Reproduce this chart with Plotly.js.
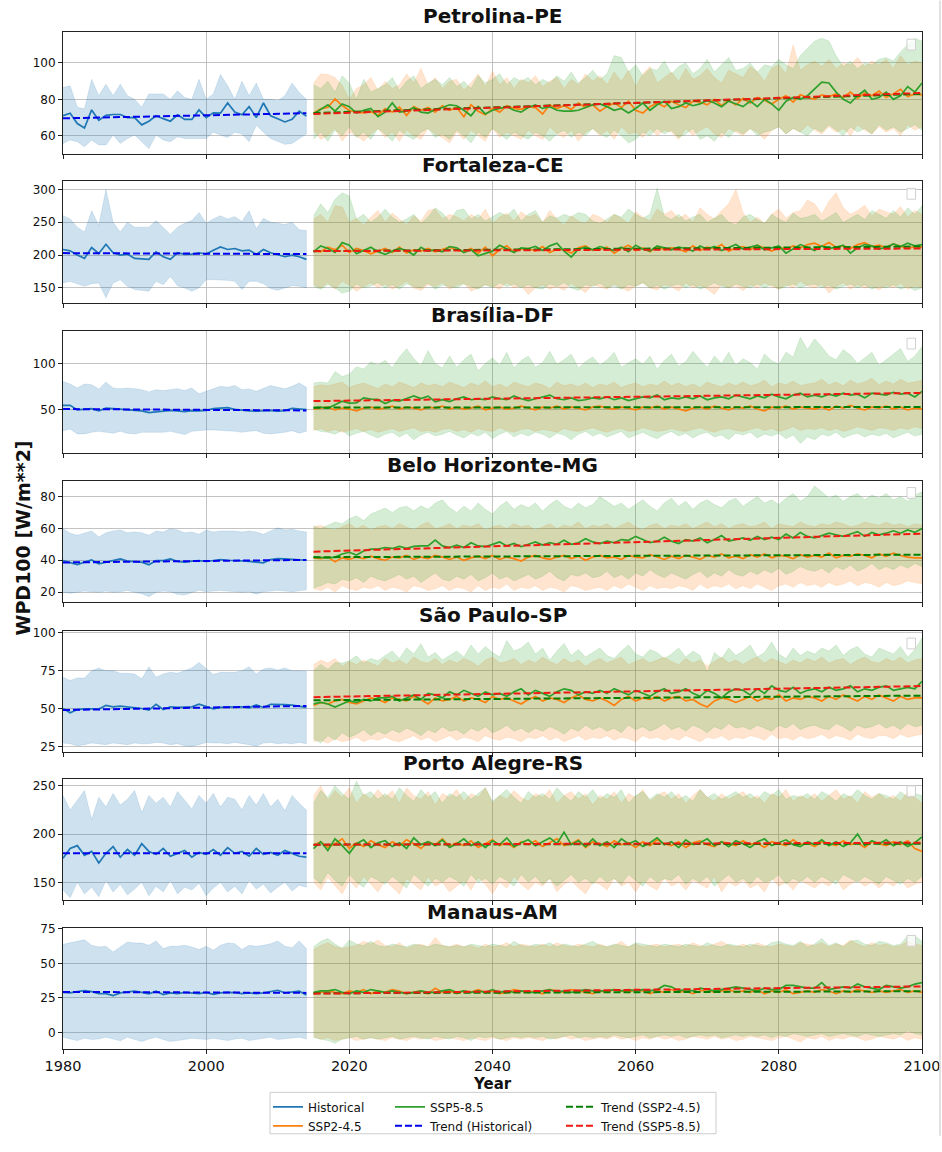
<!DOCTYPE html>
<html><head><meta charset="utf-8">
<script src="https://cdn.plot.ly/plotly-3.0.1.min.js"></script>
<style>body{margin:0;background:#fff}</style>
</head><body><div id="chart" style="width:942px;height:1152px"></div>
<script>
const histYears = [1980,1981,1982,1983,1984,1985,1986,1987,1988,1989,1990,1991,1992,1993,1994,1995,1996,1997,1998,1999,2000,2001,2002,2003,2004,2005,2006,2007,2008,2009,2010,2011,2012,2013,2014];
const sspYears = [2015,2016,2017,2018,2019,2020,2021,2022,2023,2024,2025,2026,2027,2028,2029,2030,2031,2032,2033,2034,2035,2036,2037,2038,2039,2040,2041,2042,2043,2044,2045,2046,2047,2048,2049,2050,2051,2052,2053,2054,2055,2056,2057,2058,2059,2060,2061,2062,2063,2064,2065,2066,2067,2068,2069,2070,2071,2072,2073,2074,2075,2076,2077,2078,2079,2080,2081,2082,2083,2084,2085,2086,2087,2088,2089,2090,2091,2092,2093,2094,2095,2096,2097,2098,2099,2100];
const cities = ['Petrolina-PE','Fortaleza-CE','Brasília-DF','Belo Horizonte-MG','São Paulo-SP','Porto Alegre-RS','Manaus-AM'];
const seriesNames = ['Historical','SSP2-4.5','SSP5-8.5','Trend (Historical)','Trend (SSP2-4.5)','Trend (SSP5-8.5)'];

// ---------- Petrolina-PE ----------
const pet_hist_mean = [71,72.4,66.7,64.3,74.2,68.5,71.2,71.7,71.7,70,70,66,68,71,69.4,68,71.5,69,69,74.2,70,72.6,72.4,78,73,71.5,76,70,78,71,69.4,67.6,69,73.5,70.8];
const pet_hist_up = [86.5,87.4,75.7,74.8,91,82,88.3,82,88.3,82,80,75.7,83,83,83,80,84.7,81,80,91,80,83,93.7,87.4,80,90,82,89,80,80,79.3,82,89,83.8,80];
const pet_hist_lo = [55.8,57.7,56.8,54,57.7,55,55,60.4,55.8,58.5,60.4,56.8,53,60.4,57.7,56.8,59.5,58.5,58.5,58.5,58.5,62,60.4,59,62,61,56.8,65.8,62,58.5,56.8,55.3,55.8,58.5,61];
const pet_245_mean = [72.4,74.8,75.7,80.2,76.6,73.9,73,72.6,73.3,71.2,74.8,73,75.7,71.2,76,74,75.5,73,76.5,74,75.5,70.5,77,73.5,71.5,75,73,76.5,75,74.5,76,75.5,72,77,75,76.5,74.5,78,75.5,77,73.5,76,78,75.5,79,74,72.5,76,78,76,79,77,75.5,79,78.5,77,80,76.5,79.5,77,80.5,78,81,79.5,77.5,80,82,78.5,82.5,81,80,82.5,81.5,83,81,84,80.5,83.5,82,84.5,81,83,85.5,81.5,83,82.5];
const pet_245_up = [89,94,93.7,92,87.7,80,86,88,92,85,90,86,88,94,89,97,88,92,86,90,91,85,89,94,87,95.5,88,92,86,91,89,93,87,90,92,86,91,88,94,90,93,88,95,90,96,87,94,98,89,92,95,90,97,91,93,97,92,89,96,94,92,98,95,90,97,99,94,110,96,99,101,98,102,97,100,99,103,98,101,99,102,97,104,99,101,100];
const pet_245_lo = [63,58,60,64,57,62,60,57,61,64,59,62,57,63,60,58,64,61,59,56,62,58,63,60,57,64,59,62,60,58,63,60,58,65,61,59,63,57,62,64,60,63,58,65,61,62,59,64,60,63,62,58,64,60,63,65,61,59,64,62,60,64,62,58,63,65,61,64,62,66,63,61,65,62,64,60,66,63,61,65,62,64,60,66,63,65];
const pet_585_mean = [72,74.5,77,73.5,77.5,76,72.5,74,75,70.5,73,78,73,73.5,75.5,73,72.5,74.5,75.5,77,76.5,74,71,76,72,74,75,76,74,73,75.5,77,75,76,74,73.5,73.5,74,75.5,77,77.5,76,74,75,72.5,75,78,74,77,79,75,76,78,76.5,77.5,79.5,78,76,79,77.5,76,79,76,80,77.5,74,79,81,80,82,86,89.5,89,84,80,78,82,85,80,81,84,80,82,87,84,89];
const pet_585_up = [88,86,90,84,93,89,80,91,84,86,88,92,85,90,93,86,89,91,88,92,87,90,86,93,89,91,94,88,92,90,92,88,91,89,93,90,95,89,92,96,91,94,104,103,95,99,93,97,96,101,94,98,100,94,97,102,95,99,103,96,97,100,95,99,98,102,99,97,104,108,112,113.5,112,104,98,101,97,100,99,102,103,101,106,110,113.5,112];
const pet_585_lo = [58,62,57,63,60,65,59,62,58,64,61,57,63,60,58,62,64,59,61,58,63,60,56,62,59,64,61,58,62,60,58,62,60,57,61,63,59,62,60,64,61,59,63,60,56,58,62,60,64,61,63,59,61,64,58,60,57,62,59,63,61,64,60,62,63,65,61,64,62,60,64,62,66,63,60,65,62,64,61,66,63,65,62,64,66,63];
const pet_trend_hist = [69.6,72.4], pet_trend_245 = [72.5,83], pet_trend_585 = [72,83.5];

// ---------- Fortaleza-CE ----------
const for_hist_mean = [208.5,206.5,200,195,211.5,202.5,216.5,203.5,200,201.5,195,194,193.5,205,197.5,193.5,203.5,201,201.5,203.5,201.5,207.5,212.5,208.5,210,206.5,207.5,201,208.5,203.5,200,197.5,200,197.5,193.5];
const for_hist_up = [260,255,242.5,235,267.5,245,300,250,235,250,242.5,242.5,242.5,252.5,242.5,231.5,242.5,248.5,252.5,265,248.5,255,260,255,258.5,251,267.5,240,256,250,248.5,246.5,250,238.5,237.5];
const for_hist_lo = [157.5,160,156.5,152.5,156.5,157.5,135,157.5,162.5,152.5,147.5,146.5,145,160,155,167.5,153.5,150,145,150,162.5,162.5,162.5,161.5,160,147.5,160,160,156.5,149,146.5,150,153.5,152.5,150];
const for_245_mean = [207,205,212,208,215,204,210,207,202,206,210,204,212,203,208,206,210,205,209,212,208,205,210,203,212,199,208,214,205,209,210,206,213,204,209,208,203,211,214,207,209,212,203,210,215,207,211,205,213,208,211,209,205,214,207,212,210,216,206,211,213,208,215,210,206,212,209,214,211,216,218,213,219,212,214,210,216,219,213,215,211,217,214,210,213,212];
const for_245_up = [255,262,250,275,273,250,256,245,258,268,250,264,255,246,260,252,268,270,255,262,258,252,262,255,270,248,258,264,252,266,258,262,250,268,255,245,260,252,248,262,258,250,262,256,248,266,258,252,270,262,268,256,262,250,272,262,255,268,278,300,265,250,258,248,262,270,256,265,268,284,278,262,282,295,272,262,268,276,260,270,266,262,274,258,268,262];
const for_245_lo = [155,150,158,148,160,154,145,152,158,150,156,148,153,160,150,146,155,152,158,148,154,157,145,150,155,152,148,158,150,153,140,150,155,148,152,146,157,150,143,155,152,148,156,150,145,153,158,150,147,155,152,145,158,150,154,148,140,155,150,153,146,155,150,158,152,148,155,150,160,153,150,156,142,152,158,148,155,150,153,147,154,150,157,148,153,150];
const for_585_mean = [205,214,210,204,219,215,202,207,212,205,201,206,210,207,200,212,206,208,205,213,211,204,208,199,202,206,215,209,204,211,210,213,207,214,218,206,197,209,212,208,213,210,207,212,205,215,209,206,214,211,208,212,210,206,214,209,213,207,211,216,209,212,215,208,211,214,203,210,216,212,207,214,210,212,215,203,211,216,214,209,212,217,213,218,214,216];
const for_585_up = [260,278,265,285,295,290,255,262,250,258,270,258,250,255,262,248,258,272,264,252,268,270,255,262,252,258,265,260,270,252,262,268,250,260,256,262,258,265,262,252,248,255,262,258,270,262,256,262,302,260,254,262,252,258,262,250,256,262,250,246,258,262,254,248,262,255,250,264,256,258,262,252,258,265,250,256,262,254,268,262,256,268,258,272,262,275];
const for_585_lo = [152,148,155,150,142,145,156,150,153,158,150,155,148,156,152,150,157,148,154,152,150,156,152,148,155,150,158,152,156,150,155,150,148,156,152,158,150,146,155,152,157,150,153,148,155,152,158,150,154,148,153,156,150,155,148,152,158,152,150,156,152,150,156,150,155,148,152,156,150,154,156,150,154,148,152,156,150,155,148,152,150,155,148,152,146,150];
const for_trend_hist = [203,201.5], for_trend_245 = [206,213], for_trend_585 = [206,210];

// ---------- Brasília-DF ----------
const bsb_hist_mean = [54.9,54.9,50,51,51.4,49,52,51.4,50.7,50,49.6,49,47.2,48.2,49.3,49.6,49,48.2,49.3,49,49.6,51.4,52,52.4,50.7,49.6,49,48.6,49,49.6,48.6,49.3,51.8,51,50.4];
const bsb_hist_up = [80.6,77.8,73.6,77.8,77.1,72.5,79.9,73.6,72.9,73.6,72.9,71.8,69.4,71.8,70.8,71.8,72.9,70.8,73.6,67.3,70.1,72.9,75.4,74.3,76.4,71.8,72.5,70.1,73.6,76.4,74.3,72.9,75.4,78.9,74.3];
const bsb_hist_lo = [27.8,29.6,24.3,24.3,26,27.1,26,25,27.1,25,24.3,26,25.4,26,26,27.1,25,23.6,27.1,27.8,28.5,28.5,27.8,27.8,27.1,26,27.1,27.8,25,24.3,25,26,27.8,25,27.1];
const bsb_245_mean = [51,52,53,50,52,51,49,52,53,51,52,54,51,53,52,50,53,52,54,51,53,51,52,54,50,52,53,51,52,54,52,50,53,52,54,51,53,52,50,53,54,52,51,53,52,50,53,52,54,51,53,51,49,52,53,51,54,52,50,53,52,54,51,49,53,52,54,51,53,52,51,53,50,54,52,55,52,50,53,52,54,51,53,50,52,51];
const bsb_245_up = [75,77,76,78,80,74,77,79,76,73,78,75,80,77,74,79,76,78,75,80,77,74,79,76,81,75,78,74,80,77,75,79,77,73,80,76,78,75,79,74,78,76,80,74,77,79,75,78,76,81,76,79,75,78,74,80,77,75,79,76,80,76,78,82,75,79,77,81,76,78,79,83,77,80,76,82,78,80,84,77,81,78,83,79,80,82];
const bsb_245_lo = [28,30,27,29,26,28,30,27,29,26,28,30,27,29,31,27,28,26,29,30,27,29,26,30,28,27,31,28,26,29,30,27,29,28,26,30,28,27,29,31,28,26,29,30,27,28,31,29,27,28,30,28,27,29,31,28,26,29,30,28,27,29,31,28,30,27,29,32,28,30,29,31,28,30,27,29,32,30,28,31,30,28,31,29,32,30];
const bsb_585_mean = [52.5,53.2,51.8,56,59.5,57.4,57.7,63,61.6,61.3,57,60.2,59.5,62.3,65.1,62.3,64.8,58.8,61,59,62,64,61,62,61,64,62,61,65,62,60,62,64,66,62,61,63,60,61,63,62,64,61,63,60,62,64,63,66,61,63,62,64,62,65,61,63,64,62,66,64,62,65,63,67,64,62,66,68,64,66,64,67,65,68,66,67,63,68,67,66,69,67,68,64,70];
const bsb_585_up = [78.9,80,78.9,91.2,85.9,88.4,96.5,94,101.8,98.2,103.5,95.4,107,115.8,105.3,97.5,114,100,95,108,96,104,110,92,100,106,98,112,95,103,108,96,101,113,99,104,110,95,102,107,98,104,112,96,101,105,99,108,94,103,110,97,102,113,104,96,108,100,112,98,105,101,94,110,103,99,112,107,128,115,126.4,118,108,104,115,109,100,106,112,98,104,110,116,102,108,118];
const bsb_585_lo = [29.6,27,26,24,28,22,25,27,23,20,24,26,21,25,18,23,26,22,24,27,23,20,25,22,26,19,24,27,21,25,22,26,24,20,25,23,18,24,27,22,25,21,24,27,20,23,26,22,19,24,27,22,25,20,24,26,21,23,18,25,23,26,20,24,22,25,19,23,14,21,18,24,22,26,20,23,25,21,24,22,25,20,23,26,22,24];
const bsb_trend_hist = [51,49.5], bsb_trend_245 = [52.5,53.2], bsb_trend_585 = [59.5,68.3];

// ---------- Belo Horizonte-MG ----------
const bhz_hist_mean = [39.8,38.4,37.3,38.8,40.2,37.7,38.8,39.8,40.8,39.4,39.2,38.8,37.1,39.8,39.8,40.8,39.2,38.8,39.4,39.8,39.2,39.8,40.4,40,40,39.6,39.2,38.8,38.4,40.4,41,40.8,40.4,40.4,40];
const bhz_hist_up = [59.8,56.9,55.7,56.9,58.4,54.6,57.3,58.4,59,57.3,57.7,57.3,55.7,58.4,57.7,59.8,59,57.3,57.7,56.3,59,57.7,58.4,58.4,58.4,57.7,58.4,57.7,56.3,58.4,60.4,59,59.4,58.4,57.7];
const bhz_hist_lo = [19.8,19.2,19.8,20.6,20.2,19.8,20.6,19.8,20.2,21,19.8,19,17.1,19.8,20.6,20.2,18.6,18.1,19.8,21.2,20.2,20.6,21,20.6,20.2,19.8,20.2,18.6,20.2,20.6,21.2,20.6,20.2,21,21.4];
const bhz_245_mean = [41.5,41,42,39,41.5,40.5,42,41,42.5,41,40,42,41.5,43,40.5,42,41,43,42,40.5,42,40,41.5,42.5,41,43,40.5,42,41,39.5,42,43,41.5,40.5,42,43,41,42.5,40,42,43,41.5,42,40.5,43,42,41.5,43.5,42,40.5,42.5,41,43,42,40.5,43,42,44,41.5,42.5,41,43.5,42,44,41.5,43,42.5,41,43.5,42,43,42,44.5,41.5,43,42.5,44,43,41.5,44,42.5,44.5,43,42,41.5,41.5];
const bhz_245_up = [61,62,60,59,61,63,60,62,59,61,62,60,63,61,59,62,64,60,61,63,60,62,61,63,59,61,62,60,63,61,62,59,61,63,60,62,61,64,60,62,61,63,60,62,64,61,59,62,63,60,62,61,63,60,62,64,61,63,60,62,63,61,62,64,60,63,62,61,64,62,61,63,62,64,63,61,62,64,63,62,64,62,63,61,63,62];
const bhz_245_lo = [22,21,23,20,24,22,21,23,22,24,21,23,22,20,24,23,21,22,24,21,23,22,20,24,21,23,22,25,21,23,22,24,21,23,22,20,24,23,21,22,23,21,24,22,25,23,21,24,22,23,22,24,23,21,25,22,24,23,25,22,24,22,25,23,21,24,25,23,26,24,25,23,26,24,25,27,24,26,25,23,26,24,25,27,26,25];
const bhz_585_mean = [41.9,41.9,41.5,42,43.9,45,43.3,45.8,47,47,48,47.4,48.7,47.5,48.7,49,49,52.6,49,48,49.5,48,51,49,48.5,50,51.5,49,50.5,48.5,50,51.5,49.5,51,50,52.5,50,51,53.5,51.5,50.5,52,51,53,52.5,55,53,51,52,54.5,52,50.5,53,52,54,51,53,55.5,52,53,54,52.5,55,53,54.5,53,56.5,54,57.5,55,54,55.5,57,56,55,56.5,58,55,57.5,56,57,58.5,57,59,57.5,60];
const bhz_585_up = [61.4,60,62,64,63,66,68,65,69,71,72.8,70,73,74,71,74.2,72,76,78,73,70,74,71,76,72,69,74,77,72,75,73,76,71,75,78,74,72,76,73,75,80,77,74,76,72,75,78,74,71,76,79,74,77,72,76,78,75,73,77,79,74,77,80,76,78,75,79,82,77,80,86.6,83,79,81,77,80,82,78,81,79,82,78,80,77,81,83];
const bhz_585_lo = [22.5,24,26,25,28,27,29,26,30,28,27,29,31,28,30,26,29,32,28,27,30,28,31,27,29,32,28,30,27,29,31,28,30,33,29,27,31,30,32,29,30,33,29,31,28,32,30,34,31,29,32,30,28,31,33,29,32,30,34,31,30,33,31,34,32,35,31,33,36,34,33,35,32,36,34,37,33,35,38,34,36,34,37,35,38,36];
const bhz_trend_hist = [38.6,40.2], bhz_trend_245 = [41.9,43.5], bhz_trend_585 = [45.4,56.7];

// ---------- São Paulo-SP ----------
const sao_hist_mean = [50,47.2,49.3,49.8,49.8,49.6,52,51.1,51.5,51.1,50.4,50,48.9,52.8,49.3,51.1,50.7,50.7,51.1,52.8,51.5,49.8,50.7,51.1,51.1,51.1,50.4,52.4,50.7,52.8,52.8,52.6,52.2,51.5,50.7];
const sao_hist_up = [70.7,68.5,70.2,70.2,75,76.7,75,75,73.3,73.3,72.8,69.6,77.6,70.7,72.8,73.9,73.3,75,76.7,80.4,76.7,72.4,73.9,73.9,73.9,75,77.6,72.8,76.1,76.7,75.4,76.7,75,75,74.6];
const sao_hist_lo = [27.2,26.7,25.4,26.1,27.2,26.7,26.1,27.2,26.7,26.1,27.2,26.7,26.7,27.6,27.2,26.1,26.7,25.4,25,26.1,27.6,27.2,27.2,26.7,27.6,26.7,26.1,25,27.2,27.6,26.7,27.2,26.7,27.6,26.7];
const sao_245_mean = [52,54,53,55,56,54,53,55,57,56,54,57,56,55,58,56,53,57,55,56,58,55,57,56,54,58,56,57,55,53,56,58,55,57,56,54,57,59,56,55,57,55,52,56,58,55,57,56,58,55,57,58,55,56,53,51,55,57,56,54,56,58,55,57,56,59,55,57,56,58,57,55,58,56,59,57,55,58,56,59,57,55,58,56,57,57];
const sao_245_up = [79,82,80,83,78,81,79,82,80,78,83,80,82,79,84,81,80,83,79,82,80,83,81,78,82,84,80,81,83,79,82,80,84,81,79,83,80,82,78,81,83,80,82,84,79,81,83,80,82,84,81,79,83,80,82,78,81,84,80,82,79,82,84,80,83,81,79,82,80,83,81,84,80,82,83,79,82,84,81,80,83,81,84,80,82,83];
const sao_245_lo = [28,29,27,30,28,29,31,28,30,29,31,29,28,30,32,29,31,28,30,32,29,31,30,28,32,30,29,31,30,28,31,30,32,29,31,28,30,32,29,31,30,32,29,31,30,28,32,30,31,29,31,29,32,30,28,31,30,32,29,31,30,32,31,29,33,30,31,29,32,30,31,33,30,32,31,29,33,31,30,32,32,30,33,31,32,33];
const sao_585_mean = [53,54,53,51,53,55,54,56,55,57,57,58,55,57,59,56,60,59,57,61,59,62,60,58,61,59,60,58,61,63,59,62,60,58,61,63,62,59,61,60,62,60,63,61,59,62,60,58,61,63,60,61,63,60,58,62,60,57,61,63,62,59,63,60,65,62,61,64,60,62,63,61,64,62,63,65,61,63,62,64,65,62,63,64,63,68];
const sao_585_up = [75,79.3,76,80.4,80,81.5,84.8,80,83,81.5,85,88,83,90.2,86,92.8,84,87,82,85,88,84,92,86,91,87,84,95,88,90,94,86,90,82,88,93,85,89,84,87,90,85,83,88,92,86,84,89,87,83,86,90,84,88,85,74,87,83,90,85,88,92,84,87,94,86,83,90,85,88,86,90,88,92,85,89,91,86,84,90,88,86,91,84,89,96.7];
const sao_585_lo = [30,27,32,29,34,31,33,36,32,35,33,36,34,37,35,32,36,34,38,35,36,33,37,35,38,34,36,39,35,37,34,37,35,38,36,33,37,35,39,36,38,35,37,34,39,36,38,35,37,40,36,38,35,39,37,34,38,36,40,37,38,36,39,37,35,39,37,40,36,38,39,37,36,40,38,35,39,37,38,40,37,39,36,40,38,39];
const sao_trend_hist = [49,51.7], sao_trend_245 = [55.4,58.5], sao_trend_585 = [57.5,64.8];

// ---------- Porto Alegre-RS ----------
const poa_hist_mean = [175,185,188,178,182,170,180,187,176,184,178,190,182,179,185,177,180,183,176,181,179,184,178,186,180,182,177,185,179,181,178,183,180,177,176];
const poa_hist_up = [240,225,235,245,215,238,228,242,230,236,245,222,240,232,238,228,244,235,226,240,232,242,228,238,236,225,240,230,242,228,236,224,240,232,225];
const poa_hist_lo = [142,134,150,138,145,135,152,140,148,137,143,150,136,146,140,152,138,145,142,149,136,144,150,140,146,138,152,143,148,139,145,150,141,147,145];
const poa_245_mean = [188,192,186,190,195,185,191,187,193,189,186,192,188,194,190,185,192,189,195,187,191,188,193,186,190,194,188,191,186,192,189,193,187,191,195,188,190,194,186,192,190,187,193,189,191,186,192,188,194,190,188,192,186,191,193,189,187,192,190,188,193,189,191,186,192,190,188,194,189,191,187,192,190,188,193,189,191,186,192,190,188,192,189,193,185,182];
const poa_245_up = [240,250,235,245,238,248,232,242,236,246,238,245,232,248,240,236,244,230,242,238,246,234,242,238,248,232,240,236,245,238,234,242,238,246,232,240,244,236,242,230,240,236,244,232,242,238,246,234,240,244,236,242,232,240,246,238,234,242,236,240,244,236,240,232,242,238,246,234,240,236,242,234,240,246,236,240,232,244,238,242,236,240,234,244,238,232];
const poa_245_lo = [150,142,155,146,138,152,144,156,148,140,152,145,138,154,148,142,156,146,150,140,146,152,142,155,148,138,150,144,156,148,142,150,146,154,140,148,152,144,138,150,148,142,154,146,150,140,152,146,142,154,146,150,142,152,148,144,156,140,150,146,152,144,148,140,154,146,150,142,152,148,144,150,146,154,142,148,152,146,150,144,150,146,152,144,148,150];
const poa_585_mean = [185,192,183,195,188,180,190,194,186,191,193,187,191,185,196,189,192,188,194,186,190,195,188,192,186,193,189,196,187,191,194,188,192,196,190,202,189,193,187,195,188,192,186,195,190,193,187,191,196,189,192,186,194,189,191,195,188,192,187,193,190,186,192,195,188,191,194,189,187,192,189,194,188,192,187,191,200,188,193,190,194,188,192,187,191,197];
const poa_585_up = [232,245,238,250,242,236,255,240,244,236,242,236,248,240,234,246,238,244,232,242,238,244,236,242,248,234,240,246,238,232,244,238,242,236,248,240,234,244,238,246,236,242,238,246,232,240,244,236,242,238,244,236,240,234,246,238,242,236,240,244,238,242,236,244,240,246,236,240,238,242,236,244,240,234,242,238,246,240,236,242,240,236,244,238,242,240];
const poa_585_lo = [155,148,160,152,146,158,150,145,156,152,148,156,150,144,158,152,146,154,150,156,152,146,158,150,154,148,156,152,146,158,150,156,148,154,146,152,158,150,154,148,156,150,154,148,158,152,146,156,150,154,152,158,148,154,150,156,146,152,158,150,154,148,156,150,152,158,148,154,150,156,150,156,152,148,158,154,150,156,152,148,156,152,148,154,150,156];
const poa_trend_hist = [180,180], poa_trend_245 = [189,190], poa_trend_585 = [189,191];

// ---------- Manaus-AM ----------
const mao_hist_mean = [29,28.6,29.5,30.2,29.5,28.1,28.1,26.7,28.6,29,29.8,29,27.9,29.8,27.4,28.6,28.1,29,28.6,28.1,29,27.6,28.6,29,28.8,28.1,28.6,28.1,28.6,29.8,30.5,28.6,29,29.8,27.1];
const mao_hist_up = [63.8,64.8,66.2,67.1,63.1,61.9,62.4,58.3,61.9,65.5,64.8,64.8,63.1,66.2,60.7,62.4,62.4,63.1,61.9,60,62.4,59.5,63.1,64.8,64.3,60,63.1,62.4,63.1,64.3,66.2,62.4,61.4,66.2,60.7];
const mao_hist_lo = [-3.6,-4.8,-6,-4.3,-5.2,-4.8,-3.6,-4.8,-6.2,-3.6,-5.2,-6.7,-4.8,-3.6,-5.2,-6.7,-6.2,-5.2,-4.3,-4.8,-5.2,-4.3,-5.2,-6,-4.8,-4.3,-6,-4.8,-4.3,-3.6,-5.2,-4.8,-4.3,-3.6,-4.8];
const mao_245_mean = [28,29,30,29,28,30,29,31,28,30,29,31,30,28,29,30,28,32,29,30,28,30,29,31,29,30,28,29,31,30,29,30,28,31,30,29,31,30,29,28,30,29,31,30,29,31,30,28,30,29,31,29,30,28,30,31,29,30,31,29,30,29,31,28,30,29,31,28,29,30,29,31,30,28,30,29,31,30,29,30,29,30,31,29,30,29];
const mao_245_up = [60,63,65,62,61,62,63,66,64,67,63,62,65,61,63,64,62,69,63,62,64,62,63,61,64,62,63,65,62,64,63,62,64,62,65,63,62,64,63,62,64,62,63,66,62,64,62,63,64,62,63,64,62,65,63,62,64,66,63,62,64,62,65,63,62,64,63,62,65,64,63,65,62,64,63,67,64,62,65,63,64,62,63,66,64,63];
const mao_245_lo = [-3,-5,-4,-6,-5,-4,-6,-5,-4,-5,-6,-4,-5,-6,-4,-5,-4,-6,-5,-4,-5,-6,-4,-5,-6,-4,-5,-6,-4,-5,-4,-5,-6,-4,-5,-3,-5,-4,-6,-5,-4,-5,-3,-5,-4,-6,-4,-5,-3,-5,-4,-6,-5,-3,-4,-5,-3,-5,-4,-6,-5,-3,-4,-5,-6,-4,-3,-5,-7,-4,-5,-3,-6,-4,-5,-3,-4,-6,-5,-3,-4,-5,-3,-6,-4,-5];
const mao_585_mean = [29,30,30,31,29,28,30,29,31,30,29,30,29,28,29,30,29,29,30,31,29,30,29,30,29,31,29,30,29,30,29,29,30,31,29,30,29,30,31,30,30,30,31,30,31,30,31,30,31,34,33,30,31,30,32,31,30,31,32,33,32,31,30,32,31,31,34,34,33,32,32,36,31,32,33,32,35,33,32,31,34,33,32,33,35,36];
const mao_585_up = [62,66,68,64,61,67,64,63,66,63,62,64,63,62,64,63,62,64,63,62,63,62,64,63,62,64,63,62,66,63,62,64,63,65,62,64,63,62,64,66,63,62,64,63,62,65,64,63,62,64,63,62,64,63,62,65,63,62,64,63,62,64,63,62,65,66,64,63,66,62,64,68,63,65,62,66,67,64,63,66,65,63,64,70,70,66];
const mao_585_lo = [-4,-5,-6,-8,-5,-4,-3,-5,-4,-5,-4,-3,-5,-4,-3,-4,-5,-3,-4,-5,-3,-4,-6,-3,-4,-3,-5,-4,-3,-4,-3,-4,-3,-5,-4,-3,-2,-4,-3,-4,-3,-4,-2,-3,-4,-3,-2,-4,-3,-2,-3,-2,-4,-3,-2,-3,-2,-4,-3,-2,-3,-2,-3,-2,-4,-2,-3,-1,-2,-3,-2,-1,-3,-2,-1,-2,-3,-1,-2,-3,-2,-1,-2,1,-1,-2];
const mao_trend_hist = [29.3,28.6], mao_trend_245 = [28.3,29.8], mao_trend_585 = [28,33.3];

// ---------- assembly ----------
const panels = [
 {hm:pet_hist_mean,hu:pet_hist_up,hl:pet_hist_lo,am:pet_245_mean,au:pet_245_up,al:pet_245_lo,bm:pet_585_mean,bu:pet_585_up,bl:pet_585_lo,th:pet_trend_hist,ta:pet_trend_245,tb:pet_trend_585,range:[49.9,116.8],ticks:[60,80,100]},
 {hm:for_hist_mean,hu:for_hist_up,hl:for_hist_lo,am:for_245_mean,au:for_245_up,al:for_245_lo,bm:for_585_mean,bu:for_585_up,bl:for_585_lo,th:for_trend_hist,ta:for_trend_245,tb:for_trend_585,range:[126.6,312],ticks:[150,200,250,300]},
 {hm:bsb_hist_mean,hu:bsb_hist_up,hl:bsb_hist_lo,am:bsb_245_mean,au:bsb_245_up,al:bsb_245_lo,bm:bsb_585_mean,bu:bsb_585_up,bl:bsb_585_lo,th:bsb_trend_hist,ta:bsb_trend_245,tb:bsb_trend_585,range:[4,134.5],ticks:[50,100]},
 {hm:bhz_hist_mean,hu:bhz_hist_up,hl:bhz_hist_lo,am:bhz_245_mean,au:bhz_245_up,al:bhz_245_lo,bm:bhz_585_mean,bu:bhz_585_up,bl:bhz_585_lo,th:bhz_trend_hist,ta:bhz_trend_245,tb:bhz_trend_585,range:[14,90],ticks:[20,40,60,80]},
 {hm:sao_hist_mean,hu:sao_hist_up,hl:sao_hist_lo,am:sao_245_mean,au:sao_245_up,al:sao_245_lo,bm:sao_585_mean,bu:sao_585_up,bl:sao_585_lo,th:sao_trend_hist,ta:sao_trend_245,tb:sao_trend_585,range:[21,101.1],ticks:[25,50,75,100]},
 {hm:poa_hist_mean,hu:poa_hist_up,hl:poa_hist_lo,am:poa_245_mean,au:poa_245_up,al:poa_245_lo,bm:poa_585_mean,bu:poa_585_up,bl:poa_585_lo,th:poa_trend_hist,ta:poa_trend_245,tb:poa_trend_585,range:[131.5,257],ticks:[150,200,250]},
 {hm:mao_hist_mean,hu:mao_hist_up,hl:mao_hist_lo,am:mao_245_mean,au:mao_245_up,al:mao_245_lo,bm:mao_585_mean,bu:mao_585_up,bl:mao_585_lo,th:mao_trend_hist,ta:mao_trend_245,tb:mao_trend_585,range:[-12.1,75.3],ticks:[0,25,50,75]}
];

const COL = {hist:'#1f77b4', a:'#ff7f0e', b:'#2ca02c', th:'#0000f0', ta:'#008000', tb:'#f01a10'};
const FILL = {hist:'rgba(31,119,180,0.22)', a:'rgba(255,127,14,0.2)', b:'rgba(44,160,44,0.2)'};
const FONT = 'DejaVu Sans';
const W = 942, H = 1152, ML = 63, MR = 20, MT = 32, MB = 88;
const PH = H - MT - MB;
const tops = [32.3,183.7,335.7,487.3,640,790,941.7];
const bots = [156,307.3,459,610,763,913,1064];
const py = p => (H - MB - p) / PH;
const px = p => (p - ML) / (W - ML - MR);
const DASH = '7px,3px';

const traces = [];
const layout = {
  width: W, height: H, margin: {l: ML, r: MR, t: MT, b: MB},
  paper_bgcolor: '#fff', plot_bgcolor: '#fff', hovermode: false,
  font: {family: FONT, color: '#111'},
  annotations: [], shapes: [], showlegend: true
};

function band(x, up, lo, fill, xa, ya) {
  return {x: x.concat(x.slice().reverse()), y: up.concat(lo.slice().reverse()),
    type: 'scatter', mode: 'lines', fill: 'toself', fillcolor: fill,
    line: {width: 0.6, color: fill}, xaxis: xa, yaxis: ya, showlegend: false, hoverinfo: 'skip'};
}
function line(x, y, color, dash, width, xa, ya, name, legend, rank, show) {
  return {x: x, y: y, type: 'scatter', mode: 'lines', name: name,
    line: {color: color, width: width, dash: dash}, xaxis: xa, yaxis: ya,
    showlegend: show, legend: legend, legendrank: rank};
}

panels.forEach((p, i) => {
  const s = i === 0 ? '' : String(i + 1);
  const xa = 'x' + s, ya = 'y' + s;
  const first = i === 0;
  const hx = histYears, sx = sspYears;
  const hEnds = [hx[0], hx[hx.length - 1]], sEnds = [sx[0], sx[sx.length - 1]];
  traces.push(band(hx, p.hu, p.hl, FILL.hist, xa, ya));
  traces.push(band(sx, p.au, p.al, FILL.a, xa, ya));
  traces.push(band(sx, p.bu, p.bl, FILL.b, xa, ya));
  traces.push(line(hx, p.hm, COL.hist, 'solid', 1.7, xa, ya, seriesNames[0], 'legend', 1, first));
  traces.push(line(sx, p.am, COL.a, 'solid', 1.7, xa, ya, seriesNames[1], 'legend', 2, first));
  traces.push(line(sx, p.bm, COL.b, 'solid', 1.7, xa, ya, seriesNames[2], 'legend2', 1, first));
  traces.push(line(hEnds, p.th, COL.th, DASH, 2, xa, ya, seriesNames[3], 'legend2', 2, first));
  traces.push(line(sEnds, p.ta, COL.ta, DASH, 2, xa, ya, seriesNames[4], 'legend3', 1, first));
  traces.push(line(sEnds, p.tb, COL.tb, DASH, 2, xa, ya, seriesNames[5], 'legend3', 2, first));

  const last = i === panels.length - 1;
  layout['xaxis' + s] = {
    domain: [0, 1], anchor: ya, range: [1980, 2100], tickvals: [1980, 2000, 2020, 2040, 2060, 2080, 2100],
    showticklabels: last, tickfont: {size: 14.5, family: FONT, color: '#111'},
    ticks: 'outside', ticklen: 4, tickcolor: '#222', showline: true, mirror: true,
    linecolor: '#222', linewidth: 1, showgrid: true, gridcolor: '#b4b4b4', gridwidth: 0.8, zeroline: false
  };
  layout['yaxis' + s] = {
    domain: [py(bots[i]), py(tops[i])], anchor: xa, range: p.range, tickvals: p.ticks,
    tickfont: {size: 12, family: FONT, color: '#111'}, ticks: 'outside', ticklen: 4, tickcolor: '#222',
    showline: true, mirror: true, linecolor: '#222', linewidth: 1,
    showgrid: true, gridcolor: '#b4b4b4', gridwidth: 0.8, zeroline: false
  };
  layout.annotations.push({text: '<b>' + cities[i] + '</b>', xref: 'paper', yref: 'paper', x: 0.5, y: py(tops[i]),
    xanchor: 'center', yanchor: 'bottom', yshift: 2, showarrow: false, font: {size: 20, family: FONT, color: '#111'}});
  layout.shapes.push({type: 'rect', xref: 'paper', yref: 'paper', x0: px(907), x1: px(915.5), y0: py(tops[i] + 18), y1: py(tops[i] + 7),
    line: {color: '#d0d0d0', width: 1}, fillcolor: 'rgba(255,255,255,0.8)'});
});

layout.annotations.push({text: '<b>Year</b>', xref: 'paper', yref: 'paper', x: 0.5, y: py(1100), xanchor: 'center', yanchor: 'middle',
  showarrow: false, font: {size: 15, family: FONT, color: '#111'}});
layout.annotations.push({text: '<b>WPD100 [W/m**2]</b>', xref: 'paper', yref: 'paper', x: px(23), y: py(546), xanchor: 'center', yanchor: 'middle',
  textangle: -90, showarrow: false, font: {size: 19, family: FONT, color: '#111'}});

// legend frame and right page edge line
layout.shapes.push({type: 'rect', xref: 'paper', yref: 'paper', x0: px(270), x1: px(716), y0: py(1150), y1: py(1108),
  line: {color: '#cccccc', width: 1}, fillcolor: 'rgba(255,255,255,0.9)', layer: 'below'});
layout.shapes.push({type: 'line', xref: 'paper', yref: 'paper', x0: px(940), x1: px(940), y0: py(1152), y1: py(0),
  line: {color: '#d8d8d8', width: 1.5}});
const legBase = {yanchor: 'top', xanchor: 'left', orientation: 'v', bgcolor: 'rgba(0,0,0,0)', borderwidth: 0,
  font: {size: 12, family: FONT, color: '#111'}, tracegroupgap: 0, traceorder: 'normal'};
layout.legend = Object.assign({}, legBase, {x: px(268), y: py(1108)});
layout.legend2 = Object.assign({}, legBase, {x: px(390), y: py(1108)});
layout.legend3 = Object.assign({}, legBase, {x: px(561), y: py(1108)});

Plotly.newPlot('chart', traces, layout, {staticPlot: true, displayModeBar: false});
</script>
</body></html>
